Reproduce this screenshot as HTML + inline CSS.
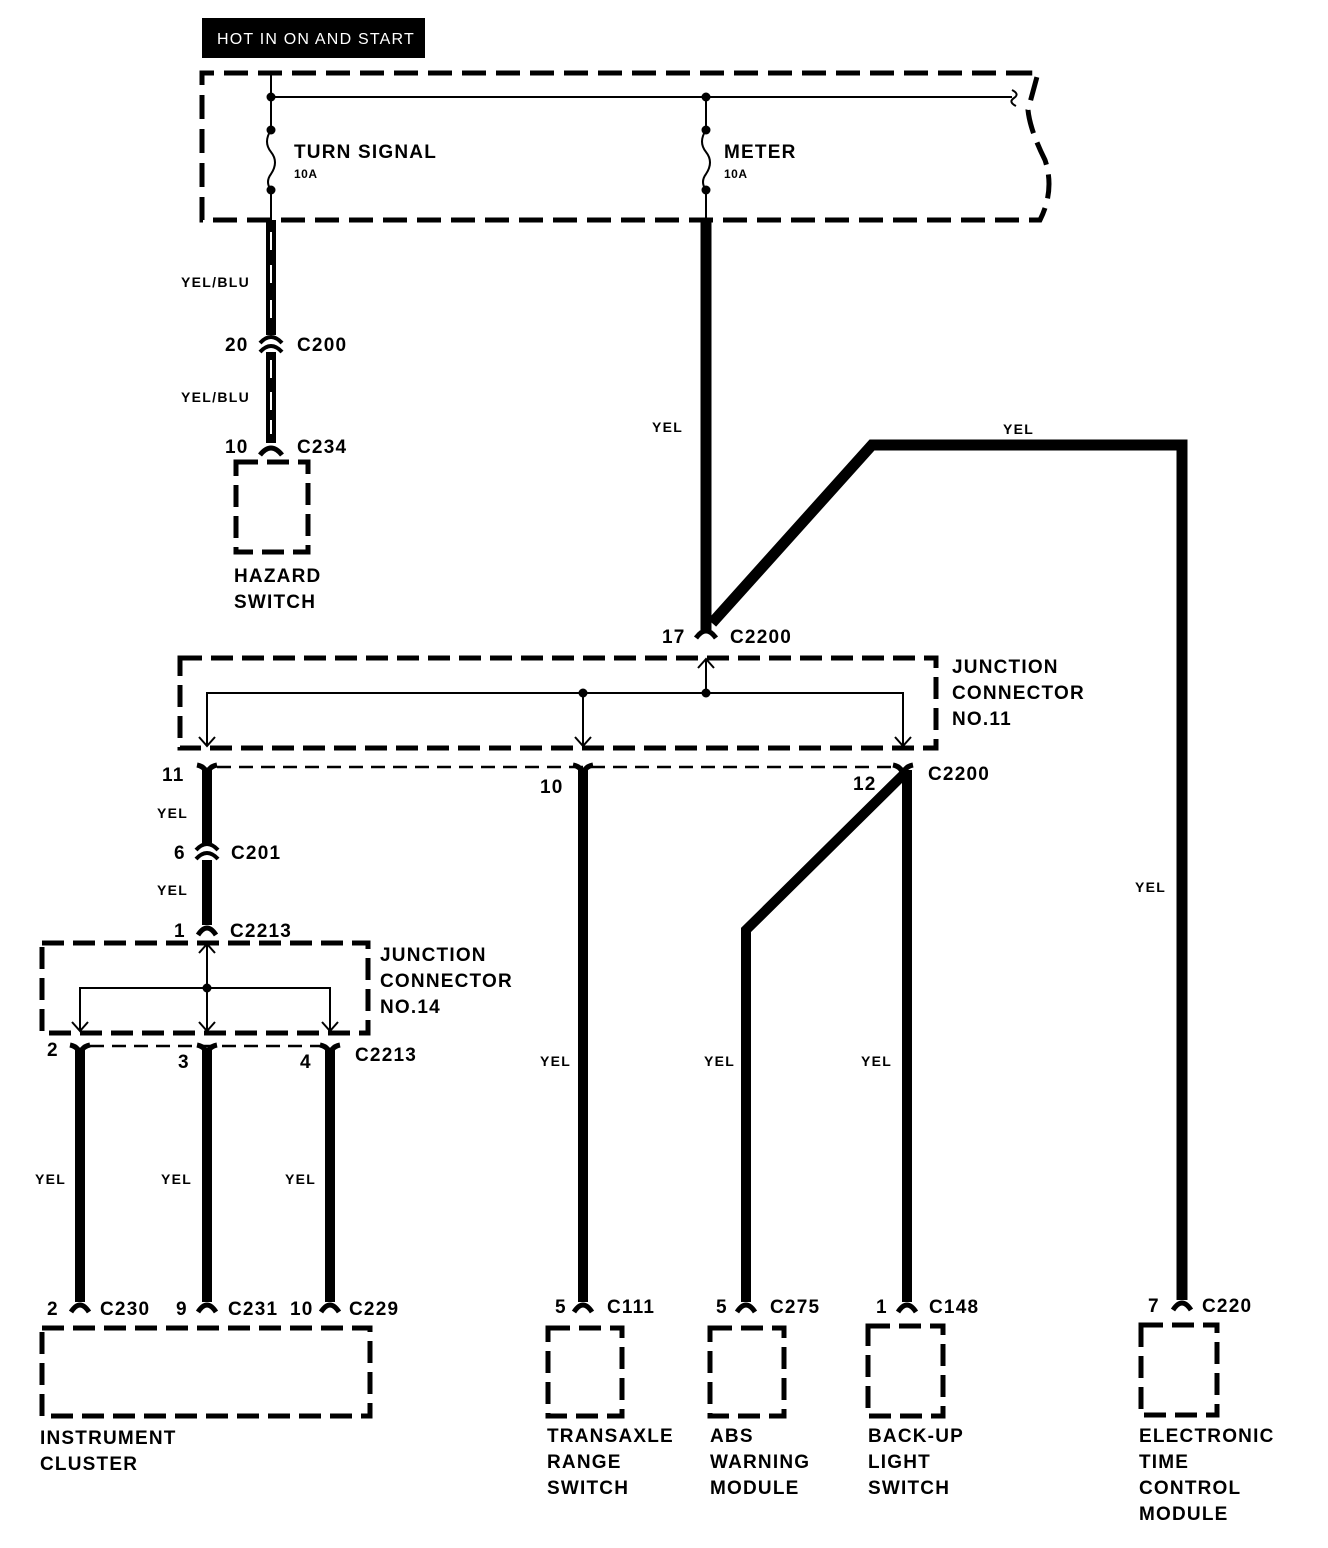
<!DOCTYPE html>
<html><head><meta charset="utf-8"><style>
html,body{margin:0;padding:0;background:#fff}
svg{display:block}
text{font-family:"Liberation Sans",Arial,sans-serif;font-weight:bold;fill:#000}
.l{font-size:19px;letter-spacing:1.2px}.s{font-size:14px;letter-spacing:1.3px}.t{font-size:12px;letter-spacing:0.5px}
</style></head><body>
<svg width="1328" height="1548" viewBox="0 0 1328 1548" xmlns="http://www.w3.org/2000/svg">
<g fill="none" stroke="#000">
<rect x="202" y="18" width="223" height="40" fill="#000" stroke="none"/>
<path d="M1030 73 H202 V220 H1040 Q1055 190 1045 160 Q1030 130 1028 110 L1038 73 H1030" stroke-width="5" stroke-dasharray="24,10"/>
<path d="M271 73 V130 M271 190 V220 M706 97 V130 M706 190 V220 M271 97 H1012" stroke-width="2"/>
<path d="M1012 90 q8 4 2 8 q-6 4 2 8" stroke-width="2"/>
<path d="M271 130 q-8 12 0 22 q8 10 0 22 q-6 8 0 16 M706 130 q-8 12 0 22 q8 10 0 22 q-6 8 0 16" stroke-width="2"/>
<path d="M271 220 V335 M271 352 V443" stroke-width="10"/>
<path d="M271 232 v18 M271 265 v18 M271 300 v18 M271 360 v18 M271 392 v18 M271 420 v14" stroke="#fff" stroke-width="2"/>
<path d="M706 220 V630 M712 623 L872 445 H1182 V1300" stroke-width="11"/>
<path d="M207 770 V843 M207 860 V925 M583 770 V1302 M907 770 V1302 M903 775 L746 930 V1302 M80 1050 V1302 M207 1050 V1302 M330 1050 V1302" stroke-width="10"/>
<path d="M260 343 q11-12 22 0 M260 352 q11-12 22 0 M196 850 q11-12 22 0 M196 859 q11-12 22 0" stroke-width="4"/>
<path d="M260 455 q11-14 22 0 M198 935 q9-14 18 0 M71 1312 q9-14 18 0 M198 1312 q9-14 18 0 M321 1312 q9-14 18 0 M574 1312 q9-14 18 0 M737 1312 q9-14 18 0 M898 1312 q9-14 18 0 M1173 1310 q9-14 18 0 M696 638 q10-14 20 0" stroke-width="5"/>
<path d="M197 765 q10 2 10 12 q0-10 10-12 M573 765 q10 2 10 12 q0-10 10-12 M893 765 q10 2 10 12 q0-10 10-12 M70 1045 q10 2 10 12 q0-10 10-12 M197 1045 q10 2 10 12 q0-10 10-12 M320 1045 q10 2 10 12 q0-10 10-12" stroke-width="5"/>
<g stroke-width="5" stroke-dasharray="22,9">
<rect x="236" y="462" width="72" height="90"/>
<rect x="180" y="658" width="756" height="90"/>
<rect x="42" y="943" width="326" height="90"/>
<rect x="42" y="1328" width="328" height="88"/>
<rect x="548" y="1328" width="74" height="88"/>
<rect x="710" y="1328" width="74" height="88"/>
<rect x="868" y="1326" width="75" height="90"/>
<rect x="1141" y="1325" width="76" height="90"/>
</g>
<path d="M217 767 H893 M90 1046 H320" stroke-width="2.5" stroke-dasharray="14,8"/>
<path d="M207 745 V693 H903 V745 M583 693 V745 M706 693 V660 M80 1030 V988 H330 V1030 M207 988 V1030 M207 988 V945" stroke-width="2"/>
<path d="M199 737 l8 9 l8-9 M575 737 l8 9 l8-9 M895 737 l8 9 l8-9 M698 668 l8-9 l8 9 M72 1022 l8 9 l8-9 M199 1022 l8 9 l8-9 M322 1022 l8 9 l8-9 M199 953 l8-9 l8 9" stroke-width="2"/>
</g>
<g fill="#000">
<circle cx="271" cy="97" r="4.5"/><circle cx="271" cy="130" r="4.5"/><circle cx="271" cy="190" r="4.5"/>
<circle cx="706" cy="97" r="4.5"/><circle cx="706" cy="130" r="4.5"/><circle cx="706" cy="190" r="4.5"/>
<circle cx="583" cy="693" r="4.5"/><circle cx="706" cy="693" r="4.5"/><circle cx="207" cy="988" r="4.5"/>
</g>
<text x="217" y="44" style="fill:#fff;font-weight:normal;font-size:16px;letter-spacing:1.2px">HOT IN ON AND START</text>
<text class="l" x="294" y="158">TURN SIGNAL</text><text class="t" x="294" y="178">10A</text>
<text class="l" x="724" y="158">METER</text><text class="t" x="724" y="178">10A</text>
<text class="s" x="181" y="287">YEL/BLU</text><text class="s" x="181" y="402">YEL/BLU</text>
<text class="l" x="225" y="351">20</text><text class="l" x="297" y="351">C200</text>
<text class="l" x="225" y="453">10</text><text class="l" x="297" y="453">C234</text>
<text class="l" x="234" y="582">HAZARD</text><text class="l" x="234" y="608">SWITCH</text>
<text class="s" x="652" y="432">YEL</text><text class="s" x="1003" y="434">YEL</text>
<text class="l" x="662" y="643">17</text><text class="l" x="730" y="643">C2200</text>
<text class="l" x="952" y="673">JUNCTION</text><text class="l" x="952" y="699">CONNECTOR</text><text class="l" x="952" y="725">NO.11</text>
<text class="l" x="162" y="781">11</text><text class="l" x="540" y="793">10</text><text class="l" x="853" y="790">12</text><text class="l" x="928" y="780">C2200</text>
<text class="s" x="157" y="818">YEL</text><text class="s" x="157" y="895">YEL</text>
<text class="l" x="174" y="859">6</text><text class="l" x="231" y="859">C201</text>
<text class="l" x="174" y="937">1</text><text class="l" x="230" y="937">C2213</text>
<text class="l" x="380" y="961">JUNCTION</text><text class="l" x="380" y="987">CONNECTOR</text><text class="l" x="380" y="1013">NO.14</text>
<text class="l" x="47" y="1056">2</text><text class="l" x="178" y="1068">3</text><text class="l" x="300" y="1068">4</text><text class="l" x="355" y="1061">C2213</text>
<text class="s" x="1135" y="892">YEL</text>
<text class="s" x="540" y="1066">YEL</text><text class="s" x="704" y="1066">YEL</text><text class="s" x="861" y="1066">YEL</text>
<text class="s" x="35" y="1184">YEL</text><text class="s" x="161" y="1184">YEL</text><text class="s" x="285" y="1184">YEL</text>
<text class="l" x="47" y="1315">2</text><text class="l" x="100" y="1315">C230</text>
<text class="l" x="176" y="1315">9</text><text class="l" x="228" y="1315">C231</text>
<text class="l" x="290" y="1315">10</text><text class="l" x="349" y="1315">C229</text>
<text class="l" x="555" y="1313">5</text><text class="l" x="607" y="1313">C111</text>
<text class="l" x="716" y="1313">5</text><text class="l" x="770" y="1313">C275</text>
<text class="l" x="876" y="1313">1</text><text class="l" x="929" y="1313">C148</text>
<text class="l" x="1148" y="1312">7</text><text class="l" x="1202" y="1312">C220</text>
<text class="l" x="40" y="1444">INSTRUMENT</text><text class="l" x="40" y="1470">CLUSTER</text>
<text class="l" x="547" y="1442">TRANSAXLE</text><text class="l" x="547" y="1468">RANGE</text><text class="l" x="547" y="1494">SWITCH</text>
<text class="l" x="710" y="1442">ABS</text><text class="l" x="710" y="1468">WARNING</text><text class="l" x="710" y="1494">MODULE</text>
<text class="l" x="868" y="1442">BACK-UP</text><text class="l" x="868" y="1468">LIGHT</text><text class="l" x="868" y="1494">SWITCH</text>
<text class="l" x="1139" y="1442">ELECTRONIC</text><text class="l" x="1139" y="1468">TIME</text><text class="l" x="1139" y="1494">CONTROL</text><text class="l" x="1139" y="1520">MODULE</text>
</svg>
</body></html>
